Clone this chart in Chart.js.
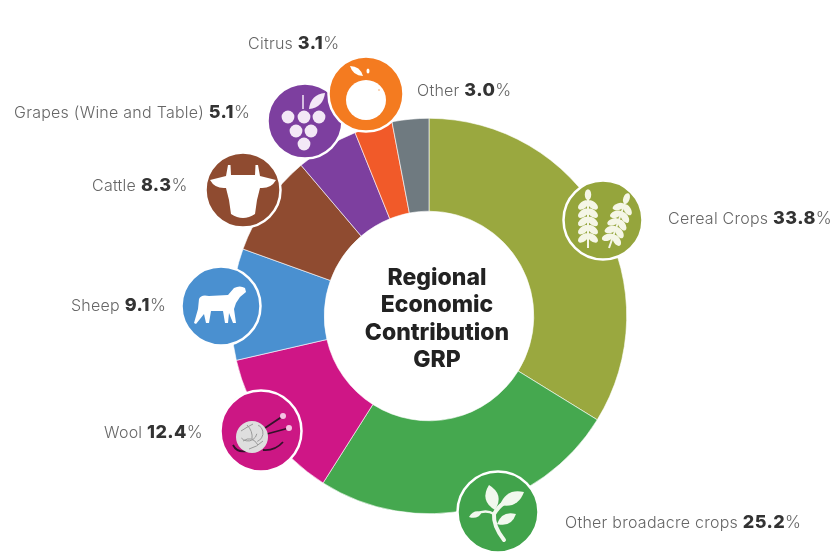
<!DOCTYPE html>
<html><head><meta charset="utf-8">
<style>html,body{margin:0;padding:0;background:#fff}#w{width:835px;height:557px;position:relative}</style>
<script src="https://cdn.jsdelivr.net/npm/chart.js@4"></script></head>
<body><div id="w"><canvas id="c" width="835" height="557"></canvas></div>
<script>
const categories = ["Cereal Crops","Other broadacre crops","Wool","Sheep","Cattle","Grapes (Wine and Table)","Citrus","Other"];
const shares = [33.8,25.2,12.4,9.1,8.3,5.1,3.1,3.0];
const centerTitle = ["Regional","Economic","Contribution","GRP"];
const sliceColors = ["#9aa83f","#45a84f","#cf1686","#4a90d0","#8f4b30","#7d3f9f","#f15a29","#6f7a80"];
const iconColors = ["#95a53c","#41a34b","#cc1784","#4a90d0","#8f4b30","#7d3f9f","#f47b20",null];
const iconCenters = [[603,220],[498,512],[261,431],[221,306],[243,190],[305,121],[366,94],null];
const iconRadius = [40,41,41,40,38,38,38,0];
const labelAnchors = [[668,219],[565,523],[104,433],[71,306],[92,186],[14,113],[248,44],[417,91]];
const FONT = '"Inter","Open Sans",sans-serif';

function ell(c,x,y,rx,ry,a){c.beginPath();c.ellipse(x,y,rx,ry,a||0,0,Math.PI*2);c.fill();}
function ear(c,x0,y0,x1,y1){
  const dx=x1-x0,dy=y1-y0,a=Math.atan2(dy,dx);
  c.strokeStyle='#f5f6e6';c.lineWidth=2;c.beginPath();c.moveTo(x0,y0);c.lineTo(x1,y1);c.stroke();
  c.fillStyle='#f5f6e6';
  ell(c,x0+dx*0.03,y0+dy*0.03,5.5,3.2,a);
  for(let i=1;i<=5;i++){const t=i*0.15,x=x0+dx*t,y=y0+dy*t;
    ell(c,x+6*Math.cos(a-0.9),y+6*Math.sin(a-0.9),6.2,3.4,a-0.9);
    ell(c,x+6*Math.cos(a+0.9),y+6*Math.sin(a+0.9),6.2,3.4,a+0.9);}
}
function leaf(c,x0,y0,x1,y1,w){
  const mx=(x0+x1)/2,my=(y0+y1)/2,nx=-(y1-y0),ny=x1-x0,l=Math.hypot(nx,ny);
  const ox=nx/l*w,oy=ny/l*w;
  c.beginPath();c.moveTo(x0,y0);c.quadraticCurveTo(mx+ox,my+oy,x1,y1);c.quadraticCurveTo(mx-ox,my-oy,x0,y0);c.fill();
}
const iconDrawers = [
 c=>{ear(c,-15,-27,-15,28);ear(c,24,-23,6,28);},
 c=>{c.fillStyle='#f2f8ee';c.strokeStyle='#f2f8ee';c.lineWidth=4;c.lineCap='round';
   c.beginPath();c.moveTo(6,28);c.quadraticCurveTo(-5,14,-4,2);c.quadraticCurveTo(0,-5,6,-9);c.stroke();
   c.lineWidth=2.4;c.beginPath();c.moveTo(-4,2);c.quadraticCurveTo(-12,-3,-22,2);c.stroke();
   leaf(c,-3,-2,-9,-27,13);leaf(c,2,-7,26,-20,12);leaf(c,-1,12,18,2,10);leaf(c,-16,0,-29,5,6);},
 c=>{c.strokeStyle='#33122a';c.lineWidth=1.8;
   c.beginPath();c.moveTo(-2,1);c.lineTo(22,-15);c.moveTo(2,4);c.lineTo(28,-3);
   c.moveTo(-28,14);c.quadraticCurveTo(-24,22,-14,20);c.moveTo(2,19);c.quadraticCurveTo(14,20,22,11);c.stroke();
   c.fillStyle='#f4c4e2';ell(c,22,-15,3,3);ell(c,28,-3,3,3);
   c.fillStyle='#dedede';ell(c,-9,6,16,16);
   c.strokeStyle='#9a9a9a';c.lineWidth=1;
   c.beginPath();c.arc(-13,1,9,0.2,2.4);c.moveTo(-3,-5);c.arc(-7,2,9,-1,1.2);c.moveTo(-18,10);c.quadraticCurveTo(-9,4,-3,14);c.moveTo(-14,-6);c.quadraticCurveTo(-8,0,-9,8);
   c.moveTo(-20,0);c.quadraticCurveTo(-14,-4,-8,-7);c.moveTo(-12,18);c.quadraticCurveTo(-4,16,2,10);c.stroke();},
 c=>{c.fillStyle='#fff';c.beginPath();
   c.moveTo(-22,-7);c.quadraticCurveTo(-20,-12,-12,-10);c.lineTo(7,-11);c.lineTo(13,-18);c.quadraticCurveTo(19,-21,24,-18);
   c.lineTo(25,-14);c.lineTo(19,-9);c.lineTo(15,-3);c.lineTo(13,3);c.lineTo(15,17);c.lineTo(12,17);c.lineTo(8,7);
   c.lineTo(7,17);c.lineTo(4,17);c.lineTo(2,5);c.lineTo(-10,5);c.lineTo(-12,17);c.lineTo(-15,17);c.lineTo(-17,8);c.lineTo(-25,18);c.lineTo(-27,17);
   c.lineTo(-23,3);c.closePath();c.fill();},
 c=>{c.fillStyle='#fff';c.beginPath();
   c.moveTo(-15,-25);c.lineTo(-12.5,-25);c.lineTo(-12,-15);c.lineTo(12,-15);c.lineTo(12.5,-25);c.lineTo(15,-25);c.lineTo(17,-14);
   c.lineTo(33,-10);c.quadraticCurveTo(28,-1,17,-2);c.lineTo(14,10);c.lineTo(12,24);c.quadraticCurveTo(0,32,-12,24);c.lineTo(-14,10);c.lineTo(-17,-2);
   c.quadraticCurveTo(-28,-1,-33,-10);c.lineTo(-17,-14);c.closePath();c.fill();},
 c=>{c.fillStyle='#f3e8f6';
   [[-17,-3],[-1,-3],[14,-3],[-9,11],[6,11],[-1,24]].forEach(p=>ell(c,p[0],p[1]-1,6.4,6.4));
   c.strokeStyle='#f3e8f6';c.lineWidth=1.5;c.beginPath();c.moveTo(-2,-26);c.lineTo(-2,-12);c.stroke();
   leaf(c,4,-12,20,-28,9);},
 c=>{c.fillStyle='#fff';ell(c,0,6,20,20);leaf(c,-16,-28,-3,-18,6);ell(c,2,-23,1.5,2.5);
   c.fillStyle='#f9c9a0';ell(c,13,-4,1,1);},
 null
];
const labelPlugin = {id:'annot',afterDraw(chart){
  const c=chart.ctx;
  iconDrawers.forEach((fn,i)=>{ if(!fn) return;
    const [x,y]=iconCenters[i],r=iconRadius[i];
    c.save();c.translate(x,y);
    c.fillStyle=iconColors[i];c.beginPath();c.arc(0,0,r,0,Math.PI*2);c.fill();
    c.strokeStyle='#fff';c.lineWidth=2.5;c.beginPath();c.arc(0,0,r-0.5,0,Math.PI*2);c.stroke();
    fn(c);c.restore();});
  c.save();c.textBaseline='middle';c.textAlign='left';
  categories.forEach((n,i)=>{let [x,y]=labelAnchors[i];
    c.letterSpacing='0.25px';
    c.font='300 16px '+FONT;c.fillStyle='#666';c.fillText(n+' ',x,y);x+=c.measureText(n+' ').width;
    const v=shares[i].toFixed(1);c.letterSpacing='0.4px';c.font='800 18px '+FONT;c.fillStyle='#333';c.fillText(v,x,y);x+=c.measureText(v).width;
    c.letterSpacing='0px';c.font='300 17px '+FONT;c.fillStyle='#666';c.fillText('%',x,y);});
  c.letterSpacing='0px';
  c.textAlign='center';c.font='800 23px '+FONT;c.fillStyle='#222';
  centerTitle.forEach((t,i)=>c.fillText(t,437,278+i*27.5));
  c.restore();
}};
new Chart(document.getElementById('c'),{type:'doughnut',
 data:{labels:categories,datasets:[{data:shares,backgroundColor:sliceColors,borderColor:'#fff',borderWidth:0.6}]},
 options:{responsive:false,animation:false,cutout:'53%',
  layout:{padding:{top:118,bottom:43,left:231,right:208}},
  plugins:{legend:{display:false},tooltip:{enabled:false}}},
 plugins:[labelPlugin]});
</script></body></html>
